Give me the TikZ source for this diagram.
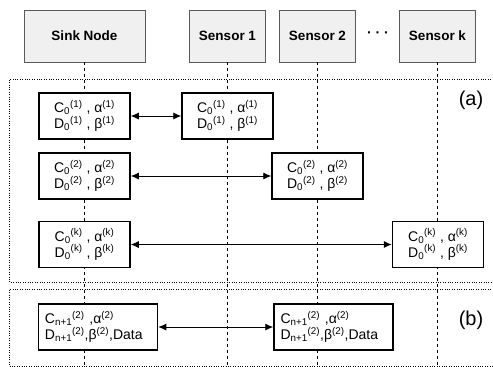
\documentclass[tikz,border=0pt]{standalone}
\usepackage{fontspec}
\setmainfont{Liberation Sans}
\usetikzlibrary{arrows.meta,positioning,calc}

\newcommand{\keypair}[1]{C\textsubscript{0}\textsuperscript{(#1)} , α\textsuperscript{(#1)}\\
  D\textsubscript{0}\textsuperscript{(#1)} , β\textsuperscript{(#1)}}

\tikzset{
  head/.style={draw=gray!70!black, fill=gray!12, minimum height=52pt,
    font=\fontsize{13.5}{15}\selectfont\bfseries},
  msg/.style={draw, line width=1.5pt, fill=white, minimum width=91pt,
    minimum height=46pt, align=center, inner sep=2pt,
    font=\fontsize{14}{16}\selectfont},
  datamsg/.style={msg, text width=106pt, inner xsep=6.5pt, align=left},
  lifeline/.style={dashed, thin},
  frame/.style={dotted, thin},
  link/.style={{Latex[length=8pt,width=7pt]}-{Latex[length=8pt,width=7pt]}, line width=0.9pt},
  tag/.style={font=\fontsize{20}{22}\selectfont}
}

\begin{document}
\begin{tikzpicture}[x=1pt, y=-1pt]
  \useasboundingbox (0,0) rectangle (493,367);
  \coordinate (bottom) at (0,367);

  % Participants
  \node[head, minimum width=121pt] (sink) at (84.5,36) {Sink Node};
  \node[head, minimum width=76pt] (sen1) at (227.5,36) {Sensor 1};
  \node[head, minimum width=76pt] (sen2) at (317.5,36) {Sensor 2};
  \node[font=\fontsize{14}{16}\selectfont\bfseries] (dots) at (378,35) {· · ·};
  \node[head, minimum width=76pt] (senk) at (437.5,36) {Sensor k};

  % Lifelines
  \foreach \p in {sink,sen1,sen2,senk}
    \draw[lifeline] (\p.south) -- (\p.south |- bottom);

  % Phase frames
  \draw[frame] (493,79) -| (9,282) -- (493,282);
  \draw[frame] (493,289) -| (9,366) -- (493,366);
  \node[tag] (taga) at (471,100) {(a)};
  \node[tag] (tagb) at (471,320) {(b)};

  % Phase (a): key exchange
  \node[msg] (s1) at (84.5,116) {\keypair{1}};
  \node[msg] (r1) at (227.5,116) {\keypair{1}};
  \node[msg] (s2) at (84.5,176) {\keypair{2}};
  \node[msg] (r2) at (317.5,176) {\keypair{2}};
  \node[msg] (s3) at (84.5,244.5) {\keypair{k}};
  \node[msg] (r3) at (438,244.5) {\keypair{k}};

  \draw[link] (s1) -- (r1);
  \draw[link] (s2) -- (r2);
  \draw[link] (s3) -- (r3);

  % Phase (b): data exchange
  \node[datamsg] (sb) at (98,327)
    {C\textsubscript{n+1}\textsuperscript{(2)} ,α\textsuperscript{(2)}\\
     D\textsubscript{n+1}\textsuperscript{(2)},β\textsuperscript{(2)},Data};
  \node[datamsg] (rb) at (333.5,327)
    {C\textsubscript{n+1}\textsuperscript{(2)} ,α\textsuperscript{(2)}\\
     D\textsubscript{n+1}\textsuperscript{(2)},β\textsuperscript{(2)},Data};
  \draw[link] (sb) -- (rb);
\end{tikzpicture}
\end{document}
